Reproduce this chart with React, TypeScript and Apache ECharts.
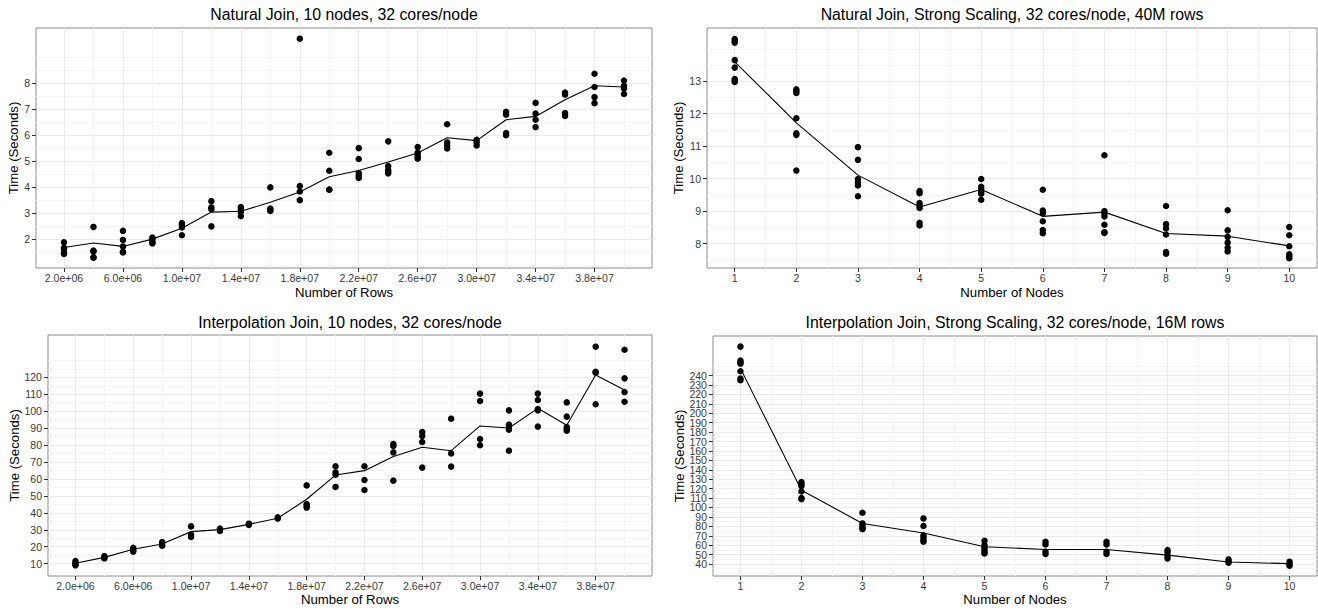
import React, { useEffect, useRef } from 'react';
import * as echarts from 'echarts';

const FONT = '"Liberation Sans", Arial, Helvetica, sans-serif';

// ---------- data ----------
const rowCounts = [2e6, 4e6, 6e6, 8e6, 1e7, 1.2e7, 1.4e7, 1.6e7, 1.8e7, 2e7, 2.2e7, 2.4e7, 2.6e7, 2.8e7, 3e7, 3.2e7, 3.4e7, 3.6e7, 3.8e7, 4e7];
const nodeCounts = [1, 2, 3, 4, 5, 6, 7, 8, 9, 10];

// Natural Join, 10 nodes, 32 cores/node
const njRowsPoints: number[][] = [
  [1.88, 1.67, 1.62, 1.48, 1.43],
  [2.47, 1.56, 1.52, 1.29, 1.30],
  [2.32, 1.97, 1.72, 1.51, 1.49],
  [2.06, 1.97, 1.88, 1.83],
  [2.62, 2.54, 2.45, 2.15],
  [3.46, 3.22, 3.15, 2.49],
  [3.23, 3.13, 3.04, 2.88],
  [3.99, 3.18, 3.12, 3.08],
  [9.71, 4.04, 3.83, 3.50],
  [5.32, 4.63, 3.91, 3.90],
  [5.50, 5.08, 4.54, 4.44, 4.35],
  [5.76, 4.81, 4.67, 4.59, 4.53],
  [5.54, 5.33, 5.23, 5.15, 5.09],
  [6.42, 5.72, 5.60, 5.49],
  [5.82, 5.72, 5.60],
  [6.90, 6.79, 6.08, 6.00],
  [7.24, 6.83, 6.59, 6.31],
  [7.64, 7.56, 6.85, 6.74],
  [8.36, 7.85, 7.46, 7.23],
  [8.10, 7.90, 7.79, 7.58],
];
const njRowsMean = [1.68, 1.85, 1.72, 2.0, 2.42, 3.04, 3.07, 3.42, 3.81, 4.40, 4.64, 4.97, 5.31, 5.90, 5.79, 6.59, 6.72, 7.36, 7.90, 7.85];

// Natural Join, Strong Scaling, 32 cores/node, 40M rows
const njNodesPoints: number[][] = [
  [14.30, 14.24, 14.19, 13.65, 13.42, 13.07, 13.02, 12.98],
  [12.75, 12.70, 12.64, 11.86, 11.40, 11.35, 10.25],
  [10.97, 10.58, 9.99, 9.88, 9.79, 9.46],
  [9.62, 9.55, 9.25, 9.18, 9.10, 8.64, 8.56],
  [9.99, 9.75, 9.68, 9.60, 9.54, 9.35],
  [9.66, 9.02, 8.93, 8.69, 8.42, 8.32],
  [10.72, 9.00, 8.93, 8.84, 8.58, 8.36, 8.33],
  [9.16, 8.60, 8.47, 8.28, 7.74, 7.69],
  [9.03, 8.41, 8.21, 8.03, 7.87, 7.76],
  [8.51, 8.26, 7.92, 7.67, 7.61, 7.55],
];
const njNodesMean = [13.60, 11.72, 10.11, 9.13, 9.67, 8.84, 8.97, 8.31, 8.23, 7.93];

// Interpolation Join, 10 nodes, 32 cores/node
const ijRowsPoints: number[][] = [
  [11.5, 10.5, 9.8, 9.0],
  [14.4, 13.6, 13.0],
  [19.4, 18.1, 17.1],
  [22.8, 21.4, 20.6],
  [32.0, 27.1, 25.7],
  [30.7, 29.3],
  [33.6, 32.8],
  [37.4, 36.6],
  [56.2, 45.2, 44.2, 43.1],
  [67.5, 63.9, 62.5, 55.3],
  [67.5, 59.4, 53.5],
  [80.6, 79.5, 75.7, 59.0],
  [87.7, 85.4, 81.8, 66.7],
  [95.6, 75.1, 67.3],
  [110.4, 106.0, 83.6, 79.9],
  [100.5, 92.1, 90.9, 89.1, 76.7],
  [110.4, 106.6, 101.3, 100.5, 90.9],
  [105.2, 96.8, 90.7, 89.5, 88.5],
  [138.1, 123.3, 122.7, 104.1],
  [136.3, 119.4, 111.3, 105.6],
];
const ijRowsMean = [10.2, 13.7, 18.5, 21.6, 28.9, 30.1, 33.2, 36.8, 48.0, 62.3, 64.9, 73.2, 78.7, 76.7, 91.3, 90.1, 101.7, 91.7, 121.4, 112.5];

// Interpolation Join, Strong Scaling, 32 cores/node, 16M rows
const ijNodesPoints: number[][] = [
  [270.7, 255.9, 254.1, 252.7, 244.6, 236.8, 235.1],
  [126.9, 124.8, 122.7, 117.0, 110.0, 108.9],
  [94.4, 83.1, 80.6, 78.2, 77.1],
  [88.4, 80.3, 70.4, 67.9, 65.4, 63.7],
  [64.7, 60.1, 57.7, 55.5, 53.1, 51.3],
  [63.7, 60.8, 53.1, 50.6],
  [63.7, 60.8, 53.1, 50.6],
  [54.8, 52.4, 48.8, 46.0],
  [44.9, 42.8, 41.4],
  [42.5, 40.0, 38.2],
];
const ijNodesMean = [247.4, 118.4, 83.1, 72.9, 58.4, 55.5, 55.5, 49.5, 42.1, 40.4];

// ---------- ticks ----------
const rowTickValues = [2e6, 6e6, 1e7, 1.4e7, 1.8e7, 2.2e7, 2.6e7, 3e7, 3.4e7, 3.8e7];
const rowTickLabels = ['2.0e+06', '6.0e+06', '1.0e+07', '1.4e+07', '1.8e+07', '2.2e+07', '2.6e+07', '3.0e+07', '3.4e+07', '3.8e+07'];
const nodeTickValues = [1, 2, 3, 4, 5, 6, 7, 8, 9, 10];
const njRowsYTicks = [2, 3, 4, 5, 6, 7, 8];
const njNodesYTicks = [8, 9, 10, 11, 12, 13];
const ijRowsYTicks = [10, 20, 30, 40, 50, 60, 70, 80, 90, 100, 110, 120];
const ijNodesYTicks = [40, 50, 60, 70, 80, 90, 100, 110, 120, 130, 140, 150, 160, 170, 180, 190, 200, 210, 220, 230, 240];

const titles = [
  'Natural Join, 10 nodes, 32 cores/node',
  'Natural Join, Strong Scaling, 32 cores/node, 40M rows',
  'Interpolation Join, 10 nodes, 32 cores/node',
  'Interpolation Join, Strong Scaling, 32 cores/node, 16M rows',
];

// ggplot-style minor breaks: midpoints between majors, extended one step beyond
function minorBreaks(majors: number[], lo: number, hi: number): number[] {
  const b = majors.slice();
  const d = b[1] - b[0];
  if (lo < b[0]) b.unshift(b[0] - d);
  if (hi > b[b.length - 1]) b.push(b[b.length - 1] + d);
  const out: number[] = [];
  for (let i = 0; i < b.length - 1; i++) {
    out.push(b[i], (b[i] + b[i + 1]) / 2);
  }
  out.push(b[b.length - 1]);
  const eps = d * 1e-6;
  return out.filter(v => v >= lo && v <= hi && !majors.some(m => Math.abs(m - v) < eps));
}

// Reorder label values (even positions first, then odd) so that ECharts'
// min/max-label overlap check never compares two adjacent crowded labels.
function interleaved(values: number[]): number[] {
  return [...values.filter((_, k) => k % 2 === 0), ...values.filter((_, k) => k % 2 === 1)];
}

interface PanelCfg {
  title: string;
  rect: { left: number; top: number; width: number; height: number };
  xs: number[];
  points: number[][];
  mean: number[];
  xRange: [number, number];
  yRange: [number, number];
  xTicks: number[];
  xLabels?: string[];
  yTicks: number[];
  xName: string;
  xNameGap: number;
  yNameGap: number;
  titleTop: number;
}

function buildOption() {
  const panels: PanelCfg[] = [
    {
      title: titles[0], rect: { left: 36, top: 28, width: 616, height: 240 },
      xs: rowCounts, points: njRowsPoints, mean: njRowsMean,
      xRange: [1e5, 4.19e7], yRange: [0.89, 10.12],
      xTicks: rowTickValues, xLabels: rowTickLabels, yTicks: njRowsYTicks,
      xName: 'Number of Rows', xNameGap: 18, yNameGap: 14, titleTop: 6,
    },
    {
      title: titles[1], rect: { left: 707, top: 28, width: 610, height: 240 },
      xs: nodeCounts, points: njNodesPoints, mean: njNodesMean,
      xRange: [0.55, 10.45], yRange: [7.25, 14.64],
      xTicks: nodeTickValues, yTicks: njNodesYTicks,
      xName: 'Number of Nodes', xNameGap: 18, yNameGap: 21, titleTop: 6,
    },
    {
      title: titles[2], rect: { left: 48, top: 335, width: 604, height: 241 },
      xs: rowCounts, points: ijRowsPoints, mean: ijRowsMean,
      xRange: [1e5, 4.19e7], yRange: [2.7, 145],
      xTicks: rowTickValues, xLabels: rowTickLabels, yTicks: ijRowsYTicks,
      xName: 'Number of Rows', xNameGap: 17, yNameGap: 26, titleTop: 314,
    },
    {
      title: titles[3], rect: { left: 713, top: 336, width: 604, height: 240 },
      xs: nodeCounts, points: ijNodesPoints, mean: ijNodesMean,
      xRange: [0.55, 10.45], yRange: [27.3, 282],
      xTicks: nodeTickValues, yTicks: ijNodesYTicks,
      xName: 'Number of Nodes', xNameGap: 17, yNameGap: 27, titleTop: 314,
    },
  ];

  const grid: any[] = [];
  const xAxis: any[] = [];
  const yAxis: any[] = [];
  const series: any[] = [];
  const title: any[] = [];

  const tickLabelStyle = { color: '#3a3a3a', fontSize: 10.56, fontFamily: FONT };
  const nameStyle = { color: '#000', fontSize: 13.2, fontFamily: FONT };

  panels.forEach((p, i) => {
    grid.push({
      ...p.rect,
      show: true,
      backgroundColor: '#ffffff',
      borderColor: '#8a8a8a',
      borderWidth: 1,
      containLabel: false,
    });
    title.push({
      text: p.title,
      left: p.rect.left + p.rect.width / 2,
      top: p.titleTop,
      textAlign: 'center',
      padding: 0,
      textStyle: { color: '#000', fontSize: 15.84, fontWeight: 'normal', fontFamily: FONT },
    });
    const xl = p.xLabels;
    // major x
    xAxis.push({
      type: 'value', gridIndex: i, position: 'bottom',
      min: p.xRange[0], max: p.xRange[1],
      axisLine: { show: false },
      axisTick: { show: true, customValues: p.xTicks, length: 4, lineStyle: { color: '#333333', width: 1 } },
      axisLabel: {
        show: true, customValues: p.xTicks, margin: 4, showMinLabel: true, showMaxLabel: true, ...tickLabelStyle,
        formatter: (v: number) => {
          if (xl) {
            const k = p.xTicks.findIndex(t => Math.abs(t - v) < 1);
            return k >= 0 ? xl[k] : '';
          }
          return String(v);
        },
      },
      splitLine: { show: true, lineStyle: { color: '#ebebeb', width: 1 } },
      name: p.xName, nameLocation: 'middle', nameGap: p.xNameGap, nameTextStyle: nameStyle,
    });
    // minor x
    xAxis.push({
      type: 'value', gridIndex: i, position: 'top',
      min: p.xRange[0], max: p.xRange[1],
      axisLine: { show: false },
      axisTick: { show: false, customValues: minorBreaks(p.xTicks, p.xRange[0], p.xRange[1]) },
      axisLabel: { show: false },
      splitLine: { show: true, lineStyle: { color: '#f5f5f5', width: 1 } },
    });
    // major y
    yAxis.push({
      type: 'value', gridIndex: i, position: 'left',
      min: p.yRange[0], max: p.yRange[1],
      axisLine: { show: false },
      axisTick: { show: true, customValues: p.yTicks, length: 4, lineStyle: { color: '#333333', width: 1 } },
      axisLabel: {
        show: true, customValues: interleaved(p.yTicks), margin: 6, hideOverlap: false,
        ...tickLabelStyle, formatter: (v: number) => String(v),
      },
      splitLine: { show: true, lineStyle: { color: '#ebebeb', width: 1 } },
      name: 'Time (Seconds)', nameLocation: 'middle', nameRotate: 90, nameGap: p.yNameGap, nameTextStyle: nameStyle,
    });
    // minor y
    yAxis.push({
      type: 'value', gridIndex: i, position: 'right',
      min: p.yRange[0], max: p.yRange[1],
      axisLine: { show: false },
      axisTick: { show: false, customValues: minorBreaks(p.yTicks, p.yRange[0], p.yRange[1]) },
      axisLabel: { show: false },
      splitLine: { show: true, lineStyle: { color: '#f5f5f5', width: 1 } },
    });

    const pts: number[][] = [];
    p.xs.forEach((x, k) => p.points[k].forEach(v => pts.push([x, v])));
    series.push({
      type: 'scatter', xAxisIndex: 2 * i, yAxisIndex: 2 * i,
      data: pts, symbol: 'circle', symbolSize: 6.5,
      itemStyle: { color: '#000000', opacity: 1 }, silent: true, z: 3,
    });
    series.push({
      type: 'line', xAxisIndex: 2 * i, yAxisIndex: 2 * i,
      data: p.xs.map((x, k) => [x, p.mean[k]]),
      showSymbol: false, symbol: 'none',
      lineStyle: { color: '#000000', width: 1.1 }, silent: true, z: 4,
    });
  });

  return { animation: false, backgroundColor: '#ffffff', title, grid, xAxis, yAxis, series };
}

export default function App() {
  const ref = useRef<HTMLDivElement>(null);
  useEffect(() => {
    if (!ref.current) return;
    const chart = echarts.init(ref.current, null, { renderer: 'svg' });
    chart.setOption(buildOption() as any);
    return () => chart.dispose();
  }, []);
  return (
    <div
      ref={ref}
      style={{ position: 'absolute', left: 0, top: 0, width: 1318, height: 611, background: '#fff' }}
    />
  );
}
